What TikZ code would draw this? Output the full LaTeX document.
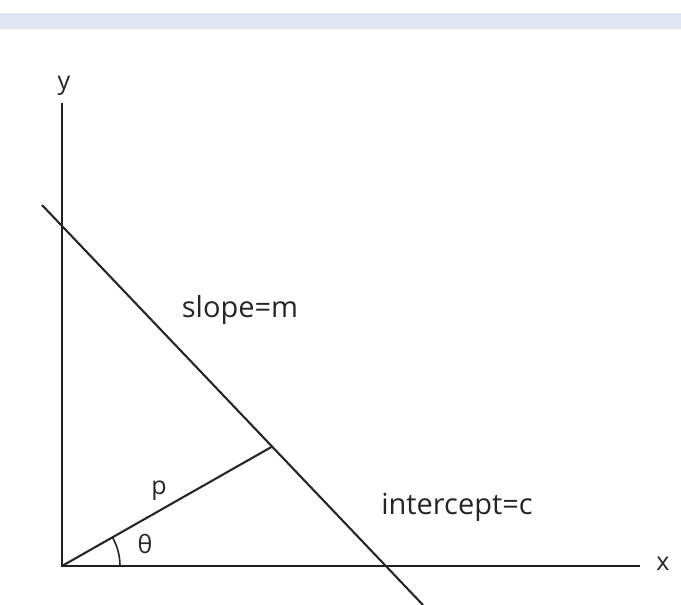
\documentclass[tikz,border=0pt]{standalone}
\usepackage{fontspec}
\setmainfont{Open Sans}
\usetikzlibrary{calc}
\definecolor{bandblue}{RGB}{225,229,241}

\begin{document}
\begin{tikzpicture}[
  x=1pt, y=-1pt,
  axis/.style={line width=2.6pt, draw=black!88},
  line/.style={line width=2.1pt, draw=black!85},
  lbl/.style={font=\fontsize{29}{33}\selectfont, text=black!85, inner sep=0pt},
  sym/.style={font=\fontsize{25}{29}\selectfont, text=black!85, inner sep=0pt},
]
\useasboundingbox (0,0) rectangle (681,605);
\fill[bandblue] (0,13) rectangle (681,29);
\coordinate (O) at (62,566);
\coordinate (ytop) at (62,103);
\coordinate (xend) at (640,566);
\coordinate (A) at (42,205);
\coordinate (B) at (423,605);
\coordinate (F) at ($(A)!0.604!(B)$);
\node[sym] (ylab) at (64,86) {y};
\node[sym] (xlab) at (663,564) {x};
\node[lbl] (slope) at (240,310) {slope=m};
\node[lbl] (icpt) at (457,507) {intercept=c};
\node[sym] (plab) at (159,491) {p};
\node[sym] (tlab) at (145,544) {θ};
\draw[axis] (ytop) -- (O) -- (xend);
\draw[line] (A) -- (B);
\draw[line] (O) -- (F);
\draw[line, line width=1.6pt] ($(O)+(58,0)$) arc[start angle=0, end angle=29.3, radius=58pt];
\end{tikzpicture}
\end{document}
